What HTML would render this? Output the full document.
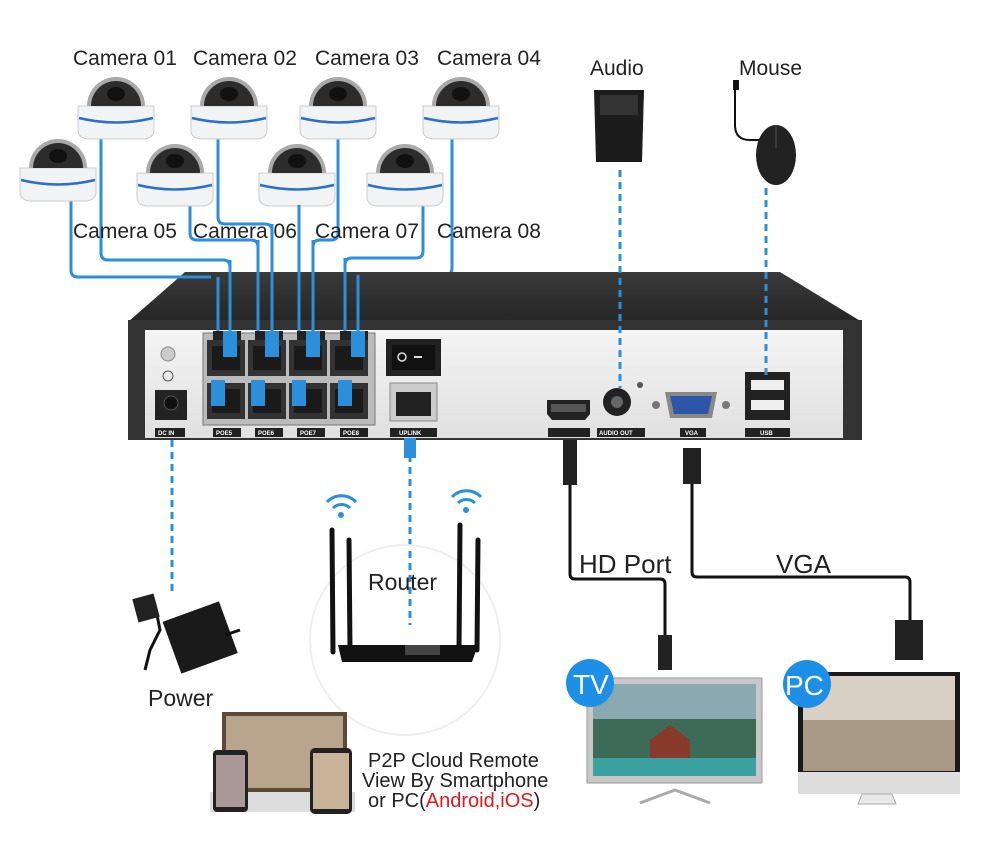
<!DOCTYPE html>
<html><head><meta charset="utf-8"><style>
html,body{margin:0;padding:0;background:#fff;}
svg{display:block;}
text{font-family:"Liberation Sans",sans-serif;fill:#222;}
</style></head><body>
<svg width="1000" height="863" viewBox="0 0 1000 863" xmlns="http://www.w3.org/2000/svg">
<defs>
<linearGradient id="front" x1="0" y1="0" x2="0" y2="1"><stop offset="0" stop-color="#f4f4f4"/><stop offset="1" stop-color="#e0e0e0"/></linearGradient>
<linearGradient id="top" x1="0" y1="0" x2="0" y2="1"><stop offset="0" stop-color="#3a3a3a"/><stop offset="1" stop-color="#262626"/></linearGradient>
<g id="cam">
<path d="M-38 0 h76 v24 q0 8 -10 9 h-56 q-10 -1 -10 -9 z" fill="#f1f3f5" stroke="#ccc"/>
<path d="M-37 12 q37 9 74 0" fill="none" stroke="#2a6fc9" stroke-width="2.5"/>
<path d="M-29 0 A29 29 0 0 1 29 0 Z" fill="#a9a9a9"/>
<path d="M-25 0 A25 25 0 0 1 25 0 Z" fill="#2c2c2c"/>
<ellipse cx="0" cy="-12" rx="9" ry="7" fill="#111"/>
</g>
<g id="poe"><rect x="0" y="0" width="38" height="36" fill="#333"/><rect x="5" y="6" width="28" height="24" fill="#1a1a1a"/></g>
</defs>

<!-- camera cables -->
<g fill="none" stroke="#2b8fdc" stroke-width="3" stroke-linejoin="round">
<path d="M71 200 V270 Q71 277 78 277 H211 Q218 277 218 284 V395"/>
<path d="M101 138 V253 Q101 260 108 260 H223 Q230 260 230 267 V345"/>
<path d="M190 205 V233 Q190 240 197 240 H251 Q258 240 258 247 V395"/>
<path d="M218 138 V217 Q218 224 225 224 H265 Q272 224 272 231 V345"/>
<path d="M299 205 V395"/>
<path d="M338 138 V233 Q338 240 331 240 H320 Q313 240 313 247 V345"/>
<path d="M423 205 V251 Q423 258 416 258 H352 Q345 258 345 265 V395"/>
<path d="M452 138 V268 Q452 275 445 275 H365 Q358 275 358 282 V345"/>
</g>

<!-- Cameras -->
<use href="#cam" x="116" y="106"/>
<use href="#cam" x="229" y="106"/>
<use href="#cam" x="338" y="106"/>
<use href="#cam" x="461" y="106"/>
<use href="#cam" x="58" y="168"/>
<use href="#cam" x="175" y="173"/>
<use href="#cam" x="297" y="173"/>
<use href="#cam" x="405" y="173"/>

<g font-size="21">
<text x="73" y="65">Camera 01</text>
<text x="193" y="65">Camera 02</text>
<text x="315" y="65">Camera 03</text>
<text x="437" y="65">Camera 04</text>
<text x="73" y="238">Camera 05</text>
<text x="193" y="238">Camera 06</text>
<text x="315" y="238">Camera 07</text>
<text x="437" y="238">Camera 08</text>
<text x="590" y="75">Audio</text>
<text x="739" y="75">Mouse</text>
</g>

<!-- NVR -->
<polygon points="185,272 780,272 862,322 128,322" fill="url(#top)"/>
<rect x="128" y="320" width="734" height="120" fill="#333"/>
<rect x="145" y="330" width="698" height="108" fill="url(#front)"/>
<!-- re-draw cables crossing top -->
<g fill="none" stroke="#2b8fdc" stroke-width="3">
<path d="M218 277 V395"/><path d="M230 260 V345"/><path d="M258 240 V395"/><path d="M272 224 V345"/>
<path d="M299 205 V395"/><path d="M313 240 V345"/><path d="M345 258 V395"/><path d="M358 275 V345"/>
<path d="M160 277 H211"/>
</g>

<!-- ground symbols -->
<circle cx="168" cy="354" r="7" fill="#ccc" stroke="#888"/>
<circle cx="168" cy="376" r="5" fill="none" stroke="#555"/>
<rect x="155" y="390" width="32" height="30" fill="#222"/>
<circle cx="171" cy="403" r="7" fill="#111" stroke="#555"/>

<!-- POE block -->
<rect x="203" y="333" width="172" height="92" fill="#bbb" stroke="#777"/>
<use href="#poe" x="207" y="340"/><use href="#poe" x="248" y="340"/><use href="#poe" x="289" y="340"/><use href="#poe" x="330" y="340"/>
<use href="#poe" x="207" y="383"/><use href="#poe" x="248" y="383"/><use href="#poe" x="289" y="383"/><use href="#poe" x="330" y="383"/>
<g fill="#222"><rect x="213" y="331" width="28" height="9"/><rect x="255" y="331" width="28" height="9"/><rect x="297" y="331" width="28" height="9"/><rect x="340" y="331" width="28" height="9"/></g>
<g fill="#222"><rect x="213" y="428" width="28" height="9"/><rect x="255" y="428" width="28" height="9"/><rect x="297" y="428" width="28" height="9"/><rect x="340" y="428" width="28" height="9"/>
<rect x="155" y="428" width="30" height="9"/><rect x="390" y="428" width="47" height="9"/>
<rect x="548" y="428" width="42" height="9"/><rect x="597" y="428" width="48" height="9"/><rect x="680" y="428" width="26" height="9"/><rect x="745" y="428" width="45" height="9"/></g>
<g font-size="6" font-weight="bold">
<text x="158" y="435" style="fill:#fff">DC IN</text>
<text x="216" y="435" style="fill:#fff">POE5</text><text x="258" y="435" style="fill:#fff">POE6</text><text x="300" y="435" style="fill:#fff">POE7</text><text x="343" y="435" style="fill:#fff">POE8</text>
<text x="399" y="435" style="fill:#fff">UPLINK</text>
<text x="599" y="435" style="fill:#fff">AUDIO OUT</text><text x="685" y="435" style="fill:#fff">VGA</text><text x="760" y="435" style="fill:#fff">USB</text>
</g>
<!-- switch, uplink -->
<rect x="386" y="339" width="55" height="37" fill="#222"/>
<rect x="392" y="345" width="43" height="25" fill="#111"/>
<circle cx="402" cy="357" r="4" fill="none" stroke="#ddd" stroke-width="1.5"/><rect x="414" y="356" width="8" height="2" fill="#ddd"/>
<rect x="390" y="383" width="47" height="38" fill="#ccc" stroke="#888"/>
<rect x="396" y="392" width="35" height="24" fill="#222"/>
<!-- HDMI, audio, VGA, USB -->
<path d="M547 400 h43 v14 l-5 6 h-33 l-5 -6 z" fill="#222"/><rect x="551" y="404" width="35" height="8" fill="#555"/>
<circle cx="617" cy="402" r="14" fill="#222"/><circle cx="617" cy="402" r="6" fill="#666"/>
<circle cx="640" cy="385" r="3" fill="#555"/>
<path d="M665 392 h52 l-5 26 h-42 z" fill="#888"/><path d="M670 396 h42 l-4 18 h-34 z" fill="#2e56a8"/>
<circle cx="656" cy="405" r="4" fill="#777"/><circle cx="726" cy="405" r="4" fill="#777"/>
<rect x="745" y="372" width="45" height="48" fill="#222"/>
<rect x="751" y="380" width="33" height="10" fill="#eee"/><rect x="751" y="400" width="33" height="10" fill="#eee"/>

<g fill="#2b8fdc">
<rect x="211" y="380" width="14" height="26"/><rect x="223" y="331" width="14" height="26"/>
<rect x="251" y="380" width="14" height="26"/><rect x="265" y="331" width="14" height="26"/>
<rect x="292" y="380" width="14" height="26"/><rect x="306" y="331" width="14" height="26"/>
<rect x="338" y="380" width="14" height="26"/><rect x="351" y="331" width="14" height="26"/>
</g>

<!-- audio speaker -->
<path d="M594 90 h50 l-2 72 h-46 z" fill="#1c1c1c"/>
<rect x="600" y="95" width="38" height="20" fill="#333"/>
<!-- mouse -->
<path d="M735 85 v40 q0 15 15 15 q10 0 15 0" fill="none" stroke="#111" stroke-width="2"/>
<rect x="733" y="80" width="6" height="10" fill="#111"/>
<ellipse cx="776" cy="155" rx="20" ry="30" fill="#222"/>
<path d="M776 126 v22" stroke="#555"/>

<!-- dashed lines -->
<g fill="none" stroke="#2b8fdc" stroke-width="3" stroke-dasharray="7,5">
<path d="M620 170 V388"/>
<path d="M766 188 V375"/>
<path d="M172 440 V595"/>
<path d="M410 455 V625"/>
</g>
<rect x="404" y="438" width="12" height="20" fill="#2b8fdc"/>

<!-- HDMI / VGA cables -->
<g fill="none" stroke="#111" stroke-width="3">
<path d="M570 480 V574 Q570 579 575 579 H660 Q665 579 665 584 V640"/>
<path d="M692 480 V572 Q692 577 697 577 H905 Q910 577 910 582 V625"/>
</g>
<path d="M563 440 h14 v45 h-14 z" fill="#222"/>
<path d="M683 448 h18 v36 h-18 z" fill="#222"/>
<rect x="658" y="635" width="14" height="35" fill="#222"/>
<rect x="895" y="620" width="28" height="40" fill="#222"/>
<g font-size="26"><text x="579" y="573">HD Port</text><text x="776" y="573">VGA</text></g>

<!-- router -->
<circle cx="405" cy="640" r="95" fill="none" stroke="#eee" stroke-width="2"/>
<g stroke="#111" stroke-width="5" stroke-linecap="round">
<path d="M332 530 L333 652"/><path d="M349 540 L350 650"/>
<path d="M460 525 L459 650"/><path d="M478 540 L477 650"/>
</g>
<path d="M338 645 h140 l-6 17 h-130 z" fill="#111"/>
<rect x="405" y="645" width="35" height="10" fill="#444"/>
<g fill="none" stroke="#2b8fdc" stroke-width="3">
<path d="M333 508 a12 12 0 0 1 17 0"/><path d="M327 502 a20 20 0 0 1 29 0"/>
<path d="M458 503 a12 12 0 0 1 17 0"/><path d="M452 497 a20 20 0 0 1 29 0"/>
</g>
<circle cx="341" cy="515" r="3" fill="#2b8fdc"/><circle cx="466" cy="510" r="3" fill="#2b8fdc"/>
<text x="368" y="590" font-size="23">Router</text>

<!-- power adapter -->
<path d="M140 600 l15 5 l5 25 l-10 20 l-5 20" fill="none" stroke="#111" stroke-width="3"/>
<rect x="135" y="596" width="22" height="24" fill="#222" transform="rotate(-15 146 608)"/>
<rect x="170" y="610" width="60" height="55" fill="#1a1a1a" transform="rotate(-20 200 637)"/>
<path d="M225 635 l15 -5" stroke="#111" stroke-width="3"/>
<text x="148" y="706" font-size="23">Power</text>

<!-- smartphone/pc illustration -->
<rect x="222" y="712" width="125" height="80" fill="#5b4a3a"/>
<rect x="226" y="716" width="117" height="72" fill="#b9a58d"/>
<rect x="210" y="792" width="145" height="20" fill="#ddd"/>
<rect x="213" y="750" width="35" height="62" rx="4" fill="#222"/>
<rect x="216" y="755" width="29" height="52" fill="#a99"/>
<rect x="310" y="748" width="42" height="66" rx="5" fill="#222"/>
<rect x="313" y="753" width="36" height="56" fill="#c9b49a"/>
<g font-size="20">
<text x="368" y="767">P2P Cloud Remote</text>
<text x="362" y="787">View By Smartphone</text>
<text x="368" y="807">or PC(<tspan style="fill:#e0191e">Android,iOS</tspan>)</text>
</g>

<!-- TV -->
<rect x="587" y="678" width="175" height="105" fill="#c8c8c8" stroke="#999"/>
<rect x="593" y="684" width="163" height="92" fill="#3e6a58"/>
<rect x="593" y="684" width="163" height="35" fill="#8aa8b0"/>
<path d="M650 740 l20 -15 l20 15 v18 h-40 z" fill="#8a3a2a"/>
<rect x="593" y="758" width="163" height="18" fill="#3aa0a0"/>
<path d="M640 803 L675 790 L710 803" fill="none" stroke="#aaa" stroke-width="3"/>
<circle cx="590" cy="683" r="24" fill="#1e8fe6"/>
<text x="573" y="694" font-size="28" style="fill:#fff">TV</text>

<!-- PC -->
<rect x="798" y="672" width="162" height="120" fill="#1a1a1a"/>
<rect x="803" y="676" width="152" height="95" fill="#d8d0c4"/>
<rect x="803" y="720" width="152" height="51" fill="#a99a88"/>
<rect x="798" y="772" width="162" height="22" fill="#ddd"/>
<path d="M862 794 h30 l4 10 h-38 z" fill="#e8e8e8" stroke="#aaa"/>
<circle cx="807" cy="684" r="24" fill="#1e8fe6"/>
<text x="785" y="695" font-size="28" style="fill:#fff">PC</text>
</svg>
</body></html>
